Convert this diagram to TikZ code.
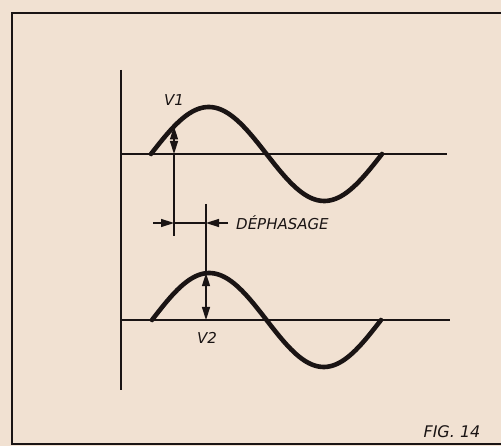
\documentclass[tikz,border=0pt]{standalone}
\usepackage{xcolor}
\usepackage{fontspec}
\usepackage{tikz}
\usetikzlibrary{arrows.meta, positioning}
\newfontfamily\lettering{DejaVu Sans}
\definecolor{paper}{RGB}{241,225,210}
\definecolor{ink}{RGB}{26,20,20}

\begin{document}
\begin{tikzpicture}[x=1pt, y=-1pt, >={Triangle[length=13pt, width=8pt]},
  wave/.style={ink, line width=4.6pt, line cap=round},
  guide/.style={ink, line width=1.5pt},
  lbl/.style={text=ink, inner sep=1pt}]
  % paper and frame
  \fill[paper] (0,0) rectangle (501,446);
  \useasboundingbox (0,0) rectangle (501,446);
  \draw[ink, line width=2.4pt] (501,13) -- (12,13) -- (12,444) -- (501,444);
  % common axis
  \draw[ink, line width=1.7pt] (121,70) -- (121,390);
  % ---------------- upper trace ----------------
  \draw[guide] (121,154) -- (447,154);
  \draw[wave] plot[domain=151:382, samples=90] (\x, {154-47*sin((\x-151)/115.5*180)});
  \coordinate (v1top) at (174,{154-47*sin(23/115.5*180)});
  \coordinate (v1base) at (174,154);
  \coordinate (v1foot) at (174,236);
  \draw[guide, <->] (v1top) -- (v1base);
  \draw[guide] (v1base) -- (v1foot);
  \node[lbl, font=\lettering\itshape\fontsize{15}{15}\selectfont] (v1lbl) at (174,100) {V1};
  % ---------------- phase shift ----------------
  \coordinate (dl) at (153,223);
  \coordinate (d1) at (174,223);
  \coordinate (d2) at (206,223);
  \coordinate (dr) at (228,223);
  \draw[guide, ->] (dl) -- (d1);
  \draw[guide] (d1) -- (d2);
  \draw[guide, ->] (dr) -- (d2);
  \node[lbl, font=\lettering\itshape\fontsize{15}{15}\selectfont, anchor=west] (dephlbl) at (235,223) {DÉPHASAGE};
  % ---------------- lower trace ----------------
  \draw[guide] (121,320) -- (450,320);
  \draw[wave] plot[domain=152:381, samples=90] (\x, {320-47*sin((\x-152)/114.5*180)});
  \coordinate (v2head) at (206,204);
  \coordinate (v2top) at (206,{320-47*sin(54/114.5*180)});
  \coordinate (v2base) at (206,320);
  \draw[guide] (v2head) -- (v2top);
  \draw[guide, <->] (v2top) -- (v2base);
  \node[lbl, font=\lettering\itshape\fontsize{15}{15}\selectfont] (v2lbl) at (207,338) {V2};
  % figure number
  \node[lbl, font=\lettering\itshape\fontsize{16}{16}\selectfont] (figlbl) at (452,432) {FIG. 14};
\end{tikzpicture}
\end{document}
